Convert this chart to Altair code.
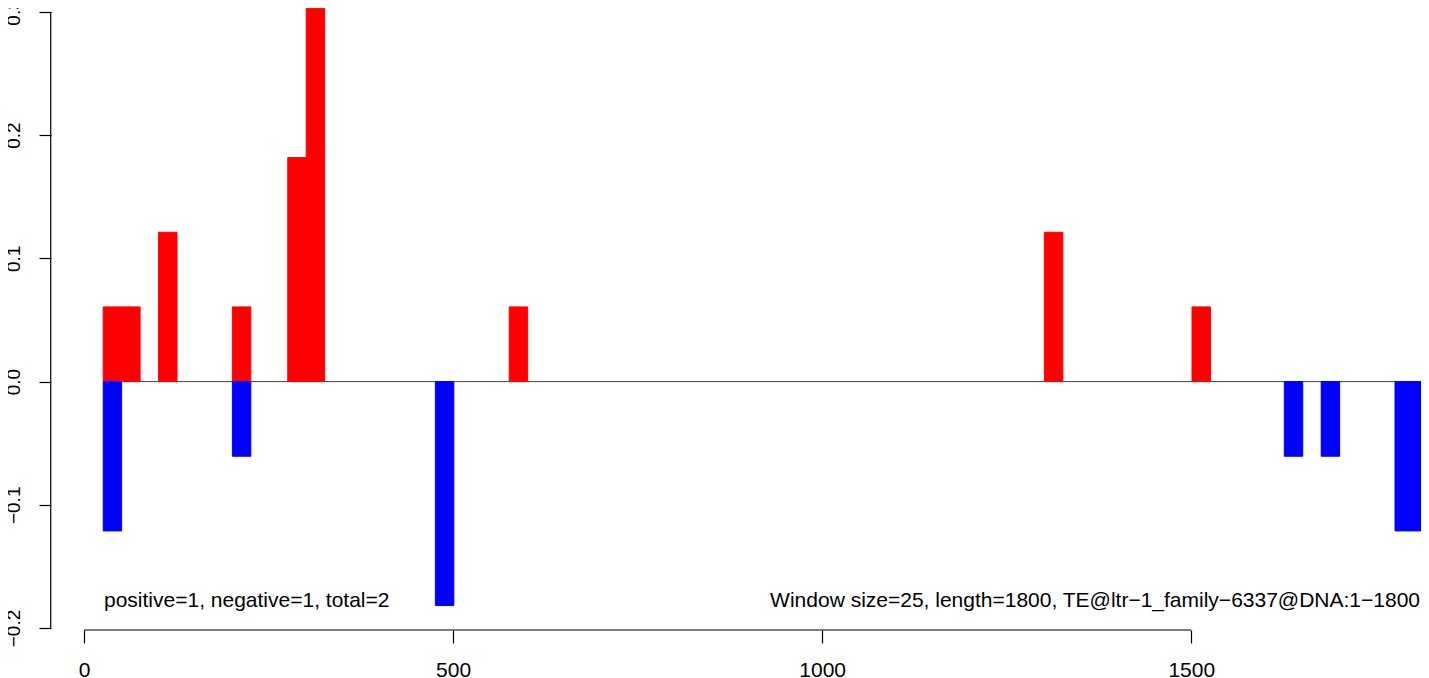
import altair as alt
import pandas as pd

# ---- data ----
window = 25
pos_starts = [26, 51, 101, 201, 276, 301, 576, 1301, 1501]
pos_values = [0.0606, 0.0606, 0.1212, 0.0606, 0.1818, 0.3030, 0.0606, 0.1212, 0.0606]
neg_starts = [26, 201, 476, 1626, 1676, 1776, 1801]
neg_values = [-0.1212, -0.0606, -0.1818, -0.0606, -0.0606, -0.1212, -0.1212]
x_ticks = [0, 500, 1000, 1500]
y_ticks = [-0.2, -0.1, 0.0, 0.1, 0.2, 0.3]
left_note = "positive=1, negative=1, total=2"
right_note = "Window size=25, length=1800, TE@ltr\u22121_family\u22126337@DNA:1\u22121800"

FONT = "Liberation Sans"

bars_df = pd.DataFrame({
    "start": pos_starts + neg_starts,
    "value": pos_values + neg_values,
    "sign": ["pos"] * len(pos_starts) + ["neg"] * len(neg_starts),
})
bars_df["end"] = bars_df["start"] + window

all_starts = pos_starts + neg_starts
zero_df = pd.DataFrame({"start": [min(all_starts)], "end": [max(all_starts) + window],
                        "value": [0.0]})
xaxis_df = pd.DataFrame({"start": [min(x_ticks)], "end": [max(x_ticks)]})
yaxis_df = pd.DataFrame({"value": [min(y_ticks)], "value2": [max(y_ticks)]})

xs = alt.Scale(domain=[0, 1811.2], nice=False, zero=False)
ys = alt.Scale(domain=[-0.2, 0.3032], nice=False, zero=False)
sign_scale = alt.Scale(domain=["pos", "neg"], range=["#FF0000", "#0000FF"])

x_axis = alt.Axis(
    values=x_ticks, format="d", domain=False, grid=False, title=None,
    tickSize=13, tickWidth=1.2, tickColor="black",
    labelFont=FONT, labelFontSize=21, labelColor="black",
    labelPadding=33, labelBaseline="alphabetic", offset=2,
    labelFlush=False, labelOverlap=False)
y_axis = alt.Axis(
    values=y_ticks, format=".1f", domain=False, grid=False, title=None,
    tickSize=12, tickWidth=1.2, tickColor="black",
    labelFont=FONT, labelFontSize=19, labelColor="black",
    labelAngle=270, labelAlign="center", labelBaseline="alphabetic",
    labelPadding=19.5, offset=33, labelFlush=False, labelOverlap=False)

zero_line = alt.Chart(zero_df).mark_rule(color="#444444", strokeWidth=1, clip=True).encode(
    x=alt.X("start:Q", scale=xs, axis=x_axis),
    x2="end:Q",
    y=alt.Y("value:Q", scale=ys, axis=y_axis),
)

bars = alt.Chart(bars_df).mark_rect(clip=True, strokeWidth=1).encode(
    x=alt.X("start:Q", scale=xs, axis=x_axis),
    x2="end:Q",
    y=alt.Y("value:Q", scale=ys, axis=y_axis),
    y2=alt.datum(0),
    color=alt.Color("sign:N", scale=sign_scale, legend=None),
    stroke=alt.Stroke("sign:N", scale=sign_scale, legend=None),
)

x_axis_line = alt.Chart(xaxis_df).mark_rule(color="black", strokeWidth=1.2).encode(
    x=alt.X("start:Q", scale=xs, axis=x_axis),
    x2="end:Q",
    y=alt.value(622),
)

y_axis_line = alt.Chart(yaxis_df).mark_rule(color="black", strokeWidth=1.2).encode(
    x=alt.value(-33.3),
    y=alt.Y("value:Q", scale=ys, axis=y_axis),
    y2="value2:Q",
)

left_text = alt.Chart(pd.DataFrame({"t": [left_note]})).mark_text(
    font=FONT, fontSize=21, color="black", align="left", baseline="alphabetic"
).encode(text="t:N", x=alt.value(20), y=alt.value(598.5))

right_text = alt.Chart(pd.DataFrame({"t": [right_note]})).mark_text(
    font=FONT, fontSize=21, color="black", align="right", baseline="alphabetic"
).encode(text="t:N", x=alt.value(1336), y=alt.value(598.5))

chart = alt.layer(zero_line, bars, x_axis_line, y_axis_line, left_text, right_text).properties(
    width=1337, height=620,
    autosize=alt.AutoSizeParams(type="none"),
    padding={"left": 76, "top": 0, "right": 0, "bottom": 50},
    background="white",
).configure_view(stroke=None)

chart.save("out.html", embed_options={"renderer": "svg", "actions": False})
